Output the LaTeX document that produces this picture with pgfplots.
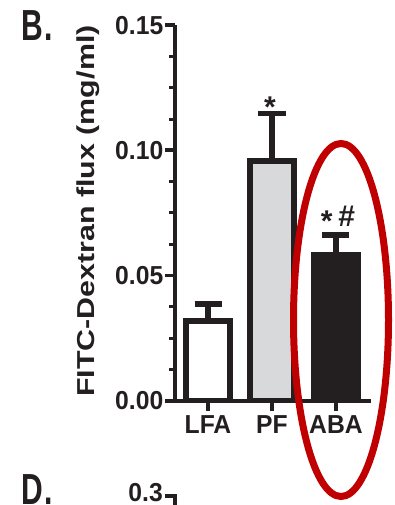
\documentclass[border=0pt]{standalone}
\usepackage{fontspec}
\setmainfont{Liberation Sans}
\newfontfamily\tickfont{Liberation Sans}[FakeStretch=0.95]
\newfontfamily\labfont{Liberation Sans}[FakeStretch=1.24]
\usepackage{pgfplots}
\pgfplotsset{compat=1.18}
\definecolor{ink}{HTML}{231F20}
\definecolor{pfgray}{HTML}{D8D9DB}
\definecolor{ellred}{HTML}{C00000}
\newcommand{\tkf}{\fontsize{26}{26}\selectfont\tickfont\bfseries}
\newcommand{\anf}{\fontsize{30}{30}\selectfont\bfseries}
\begin{document}
\begin{tikzpicture}
\path[use as bounding box] (0,0) rectangle (394pt,505pt);
\begin{axis}[
  at={(175pt,104.3pt)}, anchor=south west,
  scale only axis, width=196pt, height=375.5pt,
  xmin=-0.5156, xmax=2.547, ymin=0, ymax=0.15,
  axis x line=bottom, axis y line=left,
  axis line style={-, line width=3.8pt, ink},
  xtick={0,1,2}, xticklabels={LFA,PF,ABA},
  ytick={0,0.05,0.10,0.15},
  yticklabels={0.00,0.05,0.10,0.15},
  minor y tick num=3,
  tick align=outside,
  major tick length=10pt, minor tick length=6pt,
  major tick style={line width=3.8pt, ink},
  minor tick style={line width=3pt, ink},
  yticklabel style={font=\tkf, text=ink, inner sep=1.5pt},
  xticklabel style={font=\tkf, text=ink, inner sep=0pt, yshift=-5pt},
  ylabel={FITC-Dextran flux (mg/ml)},
  ylabel style={font=\fontsize{24.5}{24.5}\selectfont\labfont\bfseries, text=ink,
    at={(axis description cs:-0.441,0.505)}, anchor=center, inner sep=0pt},
  clip=false,
]
\addplot[ybar, bar width=0.68, bar shift=0pt, draw=ink, fill=white, line width=5.5pt,
  error bars/.cd, y dir=plus, y explicit,
  error bar style={line width=5.5pt, ink},
  error mark options={rotate=90, mark size=13.5pt, line width=5.5pt, ink}]
  coordinates {(0,0.0318) +- (0,0.0069)};
\addplot[ybar, bar width=0.68, bar shift=0pt, draw=ink, fill=pfgray, line width=5.5pt,
  error bars/.cd, y dir=plus, y explicit,
  error bar style={line width=5.5pt, ink},
  error mark options={rotate=90, mark size=13.5pt, line width=5.5pt, ink}]
  coordinates {(1,0.0957) +- (0,0.0191)};
\addplot[ybar, bar width=0.68, bar shift=0pt, draw=ink, fill=ink, line width=5.5pt,
  error bars/.cd, y dir=plus, y explicit,
  error bar style={line width=5.5pt, ink},
  error mark options={rotate=90, mark size=13.5pt, line width=5.5pt, ink}]
  coordinates {(2,0.0582) +- (0,0.0080)};
\node[font=\anf, text=ink, anchor=base, inner sep=0pt] at (axis cs:0.97,0.1132) {*};
\node[font=\anf, text=ink, anchor=base, inner sep=0pt] at (axis cs:1.855,0.0674) {*};
\node[font=\anf, text=ink, anchor=base, inner sep=0pt] at (axis cs:2.167,0.0694) {\#};
\end{axis}
\draw[ellred, line width=7pt] (341pt,185pt) ellipse [x radius=47.5pt, y radius=176.5pt];
\node[font=\anf, text=ink, anchor=base west, inner sep=0pt] at (21pt,464pt) {\scalebox{1}[1.45]{B\kern2pt.}};
\node[font=\anf, text=ink, anchor=base west, inner sep=0pt] at (21pt,1pt) {\scalebox{1}[1.45]{D\kern2pt.}};
\node[font=\tkf, text=ink, anchor=base east, inner sep=0pt] at (163pt,3.4pt) {0.3};
\draw[ink, line width=3.8pt] (165pt,9pt) -- (175pt,9pt) -- (175pt,0pt);
\end{tikzpicture}
\end{document}
